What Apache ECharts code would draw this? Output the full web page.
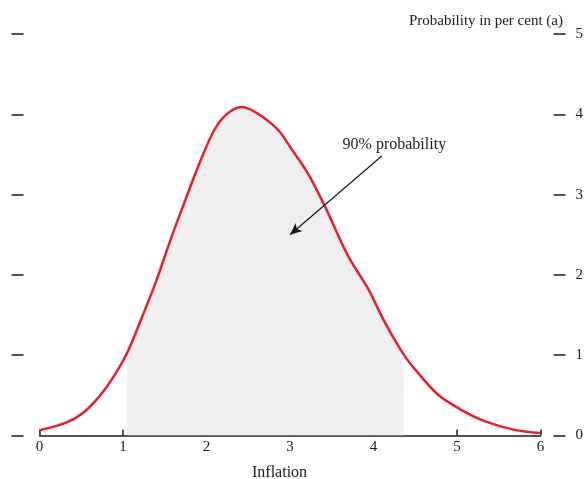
<!DOCTYPE html>
<html>
<head>
<meta charset="utf-8">
<script src="https://cdn.jsdelivr.net/npm/echarts@6/dist/echarts.min.js"></script>
<style>
  html, body { margin: 0; padding: 0; background: #fff; }
  #chart { width: 586px; height: 479px; }
</style>
</head>
<body>
<div id="chart"></div>
<script>
// Inflation outcomes (per cent) and their probability density (per cent)
const inflation = [0, 0.32, 0.52, 0.72, 0.88, 1.05, 1.23, 1.39, 1.57, 1.76, 1.90, 2.08, 2.23, 2.42, 2.58, 2.77, 2.88, 3.01, 3.21, 3.42, 3.60, 3.72, 3.94, 4.12, 4.36, 4.50, 4.77, 5.05, 5.33, 5.69, 6.0];
const probability = [0.065, 0.16, 0.28, 0.49, 0.72, 1.03, 1.48, 1.90, 2.44, 2.97, 3.35, 3.78, 3.99, 4.09, 4.03, 3.89, 3.78, 3.58, 3.27, 2.85, 2.44, 2.19, 1.82, 1.44, 1.01, 0.82, 0.51, 0.32, 0.18, 0.07, 0.03];

// Bounds of the 90% probability band
const bandFrom = 1.05;
const bandTo = 4.36;

// Axis ticks
const xTicks = [0, 1, 2, 3, 4, 5, 6];
const yTicks = [0, 1, 2, 3, 4, 5];

// Annotation: label position and arrow (data coordinates)
const noteText = '90% probability';
const notePos = [4.25, 3.62];
const arrowFrom = [4.10, 3.48];
const arrowTo = [3.0, 2.5];

const serif = '"Liberation Serif", "Times New Roman", serif';
const ink = '#1a1a1a';

const curve = inflation.map((x, i) => [x, probability[i]]);
const band = curve.filter(p => p[0] >= bandFrom - 1e-9 && p[0] <= bandTo + 1e-9);

const chart = echarts.init(document.getElementById('chart'), null, { renderer: 'canvas' });

const yAxisBase = {
  type: 'value',
  min: yTicks[0],
  max: yTicks[yTicks.length - 1],
  interval: 1,
  splitLine: { show: false },
  axisLine: { show: false, onZero: false },
  axisTick: { show: true, inside: false, length: 12, lineStyle: { color: ink, width: 1.5 } }
};

chart.setOption({
  animation: false,
  backgroundColor: '#fff',
  grid: { left: 39.5, right: 42.7, top: 34, bottom: 43.5, containLabel: false },
  xAxis: {
    type: 'value',
    min: xTicks[0],
    max: xTicks[xTicks.length - 1],
    interval: 1,
    splitLine: { show: false },
    axisLine: { show: true, onZero: false, lineStyle: { color: ink, width: 1.5 } },
    axisTick: { show: true, inside: true, length: 6, lineStyle: { color: ink, width: 1.5 } },
    axisLabel: { color: ink, fontFamily: serif, fontSize: 15, margin: 4 }
  },
  yAxis: [
    Object.assign({}, yAxisBase, {
      position: 'left',
      offset: 16,
      axisLabel: { show: false }
    }),
    Object.assign({}, yAxisBase, {
      position: 'right',
      offset: 13,
      axisLabel: { show: true, color: ink, fontFamily: serif, fontSize: 15, margin: 22 }
    })
  ],
  graphic: [
    {
      type: 'text',
      right: 23,
      top: 14,
      style: { text: 'Probability in per cent (a)', font: '15px ' + serif, fill: ink }
    },
    {
      type: 'text',
      left: 252,
      top: 465,
      style: { text: 'Inflation', font: '16px ' + serif, fill: ink }
    }
  ],
  series: [
    {
      name: 'band',
      type: 'line',
      data: band,
      smooth: 0.3,
      showSymbol: false,
      symbol: 'none',
      lineStyle: { width: 0, opacity: 0 },
      areaStyle: { color: '#efefef', opacity: 1 },
      z: 1,
      silent: true
    },
    {
      name: 'density',
      type: 'line',
      data: curve,
      smooth: 0.3,
      showSymbol: false,
      symbol: 'none',
      lineStyle: { color: '#e5202b', width: 2.5 },
      z: 3,
      markPoint: {
        silent: true,
        symbol: 'rect',
        symbolSize: 0.01,
        data: [{ coord: notePos, value: noteText }],
        label: {
          show: true,
          position: 'inside',
          formatter: noteText,
          color: ink,
          fontFamily: serif,
          fontSize: 16
        }
      },
      markLine: {
        silent: true,
        symbol: ['none', 'arrow'],
        symbolSize: [8, 12],
        label: { show: false },
        lineStyle: { color: ink, width: 1.2, type: 'solid' },
        data: [[{ coord: arrowFrom }, { coord: arrowTo }]]
      }
    }
  ]
});
</script>
</body>
</html>
